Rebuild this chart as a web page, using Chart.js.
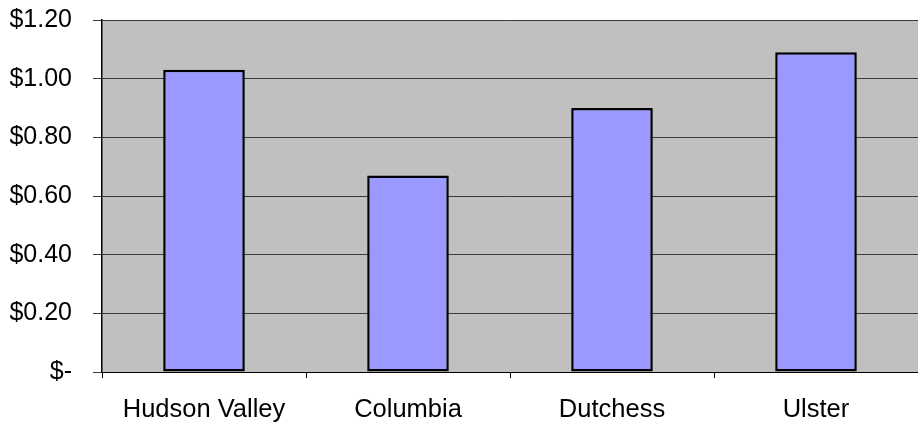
<!DOCTYPE html>
<html>
<head>
<meta charset="utf-8">
<script src="https://cdn.jsdelivr.net/npm/chart.js@4"></script>
<style>
  html, body { margin: 0; padding: 0; background: #fff; }
  #wrap { width: 918px; height: 430px; }
</style>
</head>
<body>
<div id="wrap"><canvas id="priceChart" width="918" height="430"></canvas></div>
<script>
// Chart data
const categories = ['Hudson Valley', 'Columbia', 'Dutchess', 'Ulster'];
const prices = [1.03, 0.67, 0.90, 1.09];
const yTicks = [0, 0.2, 0.4, 0.6, 0.8, 1.0, 1.2];

// Gray plot background
const plotBackground = {
    id: 'plotBackground',
    beforeDraw(chart) {
        const { ctx, chartArea } = chart;
        ctx.save();
        ctx.fillStyle = '#C0C0C0';
        ctx.fillRect(chartArea.left, chartArea.top, chartArea.right - chartArea.left, chartArea.bottom - chartArea.top);
        ctx.restore();
    }
};

function formatDollar(v) {
    if (Math.abs(v) < 1e-9) return '$-';
    return '$' + v.toFixed(2);
}

document.addEventListener('DOMContentLoaded', function() {
    const ctx = document.getElementById('priceChart');
    new Chart(ctx, {
        type: 'bar',
        data: {
            labels: categories,
            datasets: [{
                data: prices,
                backgroundColor: '#9999FF',
                borderColor: '#000000',
                borderWidth: 2.5,
                borderSkipped: false,
                barPercentage: 0.4,
                categoryPercentage: 1.0
            }]
        },
        options: {
            responsive: false,
            animation: false,
            devicePixelRatio: 1,
            layout: { padding: { top: 20, right: 0, bottom: 0, left: 0 } },
            plugins: {
                legend: { display: false },
                tooltip: { enabled: false }
            },
            scales: {
                x: {
                    offset: true,
                    grid: {
                        offset: true,
                        drawOnChartArea: false,
                        color: '#000000',
                        tickLength: 6
                    },
                    border: { display: true, color: '#000000', width: 1 },
                    ticks: {
                        color: '#000000',
                        padding: 17,
                        font: { family: 'Liberation Sans, Arial, sans-serif', size: 25.5 }
                    },
                    afterFit(scale) {
                        scale.height = 58;
                        scale.paddingLeft = 0;
                        scale.paddingRight = 0;
                    }
                },
                y: {
                    min: 0,
                    max: 1.2,
                    afterBuildTicks(scale) {
                        scale.ticks = yTicks.map(v => ({ value: v }));
                    },
                    grid: {
                        color: '#3a3a3a',
                        lineWidth: 1,
                        tickLength: 9
                    },
                    border: { display: true, color: '#000000', width: 1.5 },
                    ticks: {
                        color: '#000000',
                        padding: 21,
                        callback: formatDollar,
                        font: { family: 'Liberation Sans, Arial, sans-serif', size: 25 }
                    },
                    afterFit(scale) {
                        scale.width = 102;
                        scale.paddingTop = 0;
                        scale.paddingBottom = 0;
                    }
                }
            }
        },
        plugins: [plotBackground]
    });
});
</script>
</body>
</html>
